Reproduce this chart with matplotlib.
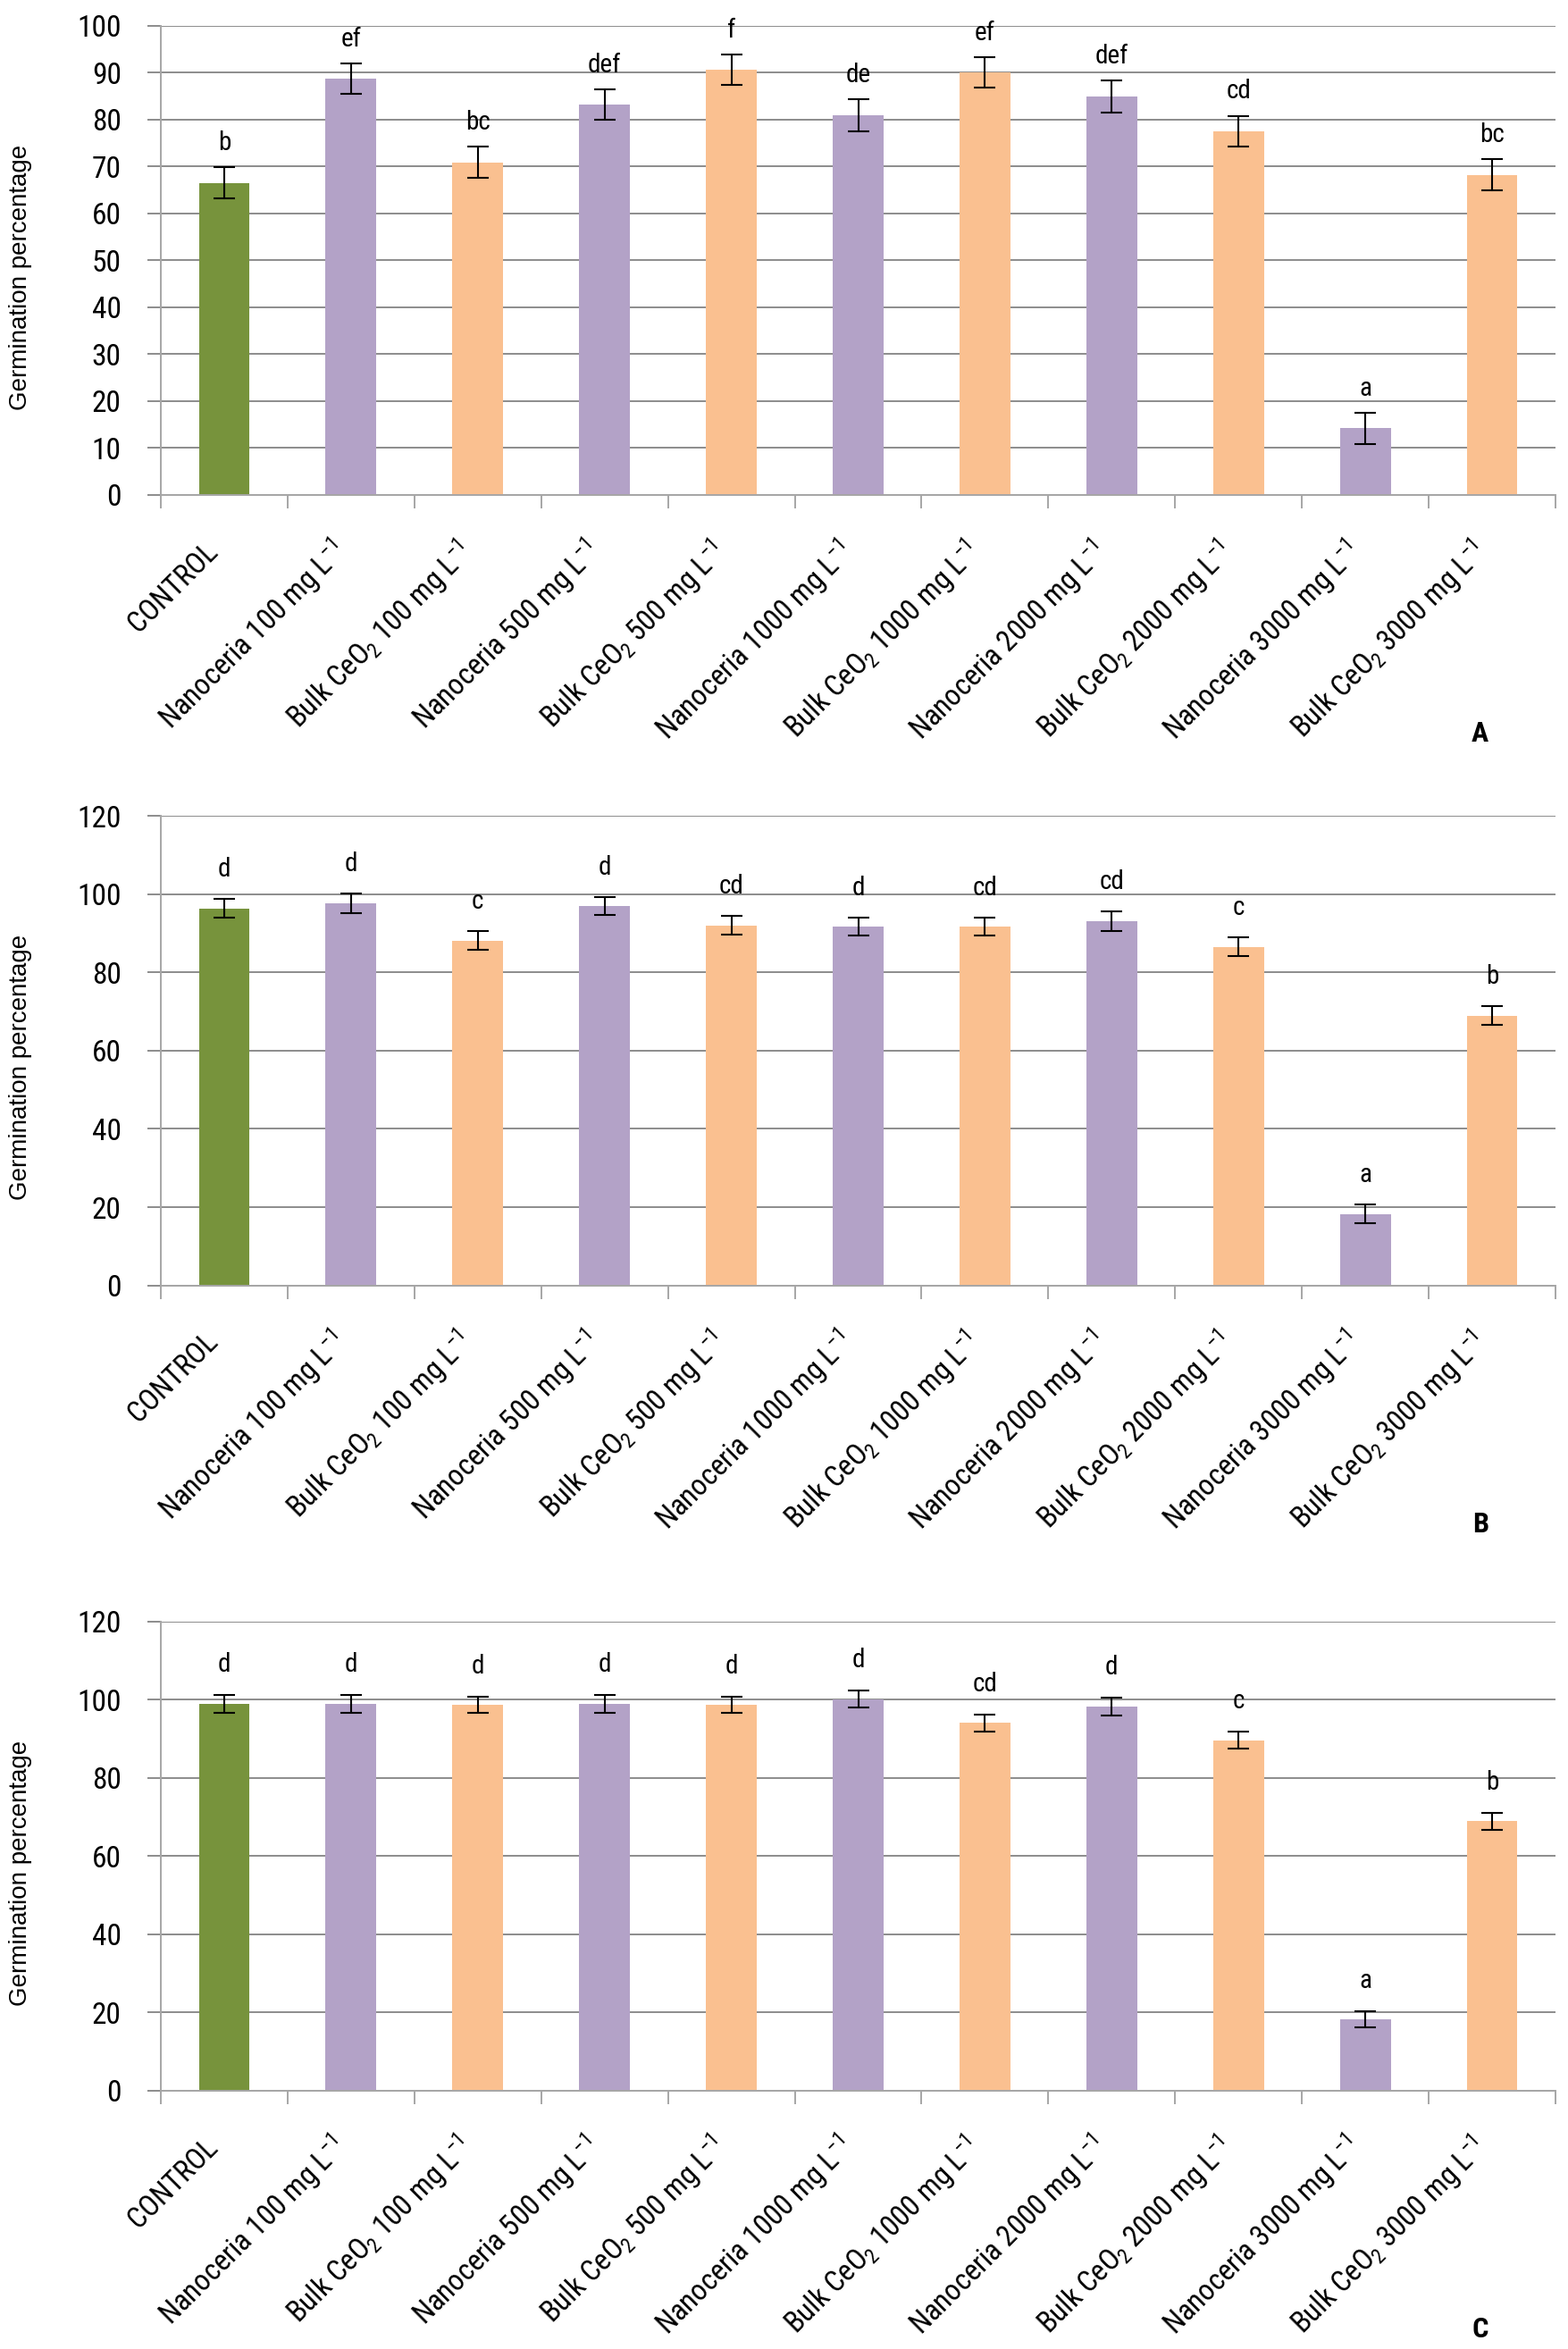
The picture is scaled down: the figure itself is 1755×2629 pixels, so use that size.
import matplotlib
matplotlib.use("Agg")
import matplotlib.pyplot as plt
import matplotlib.transforms as mtransforms
from matplotlib import font_manager
import numpy as np


def pick_family(names):
    """Returns the first installed family of the list"""
    for name in names:
        try:
            font_manager.findfont(name, fallback_to_default=False)
            return name
        except ValueError:
            pass
    return None


# categories and treatment groups
categories = [
    "CONTROL",
    "Nanoceria 100 mg L$^{-1}$",
    "Bulk CeO$_2$ 100 mg L$^{-1}$",
    "Nanoceria 500 mg L$^{-1}$",
    "Bulk CeO$_2$ 500 mg L$^{-1}$",
    "Nanoceria 1000 mg L$^{-1}$",
    "Bulk CeO$_2$ 1000 mg L$^{-1}$",
    "Nanoceria 2000 mg L$^{-1}$",
    "Bulk CeO$_2$ 2000 mg L$^{-1}$",
    "Nanoceria 3000 mg L$^{-1}$",
    "Bulk CeO$_2$ 3000 mg L$^{-1}$",
]
groups = ["control", "nano", "bulk", "nano", "bulk", "nano", "bulk",
          "nano", "bulk", "nano", "bulk"]
group_colors = {"control": "#77933C", "nano": "#B3A2C7", "bulk": "#FAC090"}

# panel A
germ_a = [66.5, 88.7, 70.9, 83.2, 90.6, 80.9, 90.0, 84.9, 77.5, 14.2, 68.2]
err_a = [3.3, 3.2, 3.3, 3.3, 3.3, 3.4, 3.2, 3.4, 3.3, 3.3, 3.3]
letters_a = ["b", "ef", "bc", "def", "f", "de", "ef", "def", "cd", "a", "bc"]

# panel B
germ_b = [96.4, 97.6, 88.1, 97.0, 92.0, 91.7, 91.7, 93.2, 86.6, 18.2, 69.0]
err_b = [2.4, 2.5, 2.4, 2.3, 2.4, 2.3, 2.3, 2.5, 2.4, 2.4, 2.5]
letters_b = ["d", "d", "c", "d", "cd", "d", "cd", "cd", "c", "a", "b"]

# panel C
germ_c = [98.9, 98.9, 98.6, 98.9, 98.6, 100.1, 94.0, 98.2, 89.6, 18.2, 68.9]
err_c = [2.2, 2.2, 2.1, 2.2, 2.1, 2.1, 2.1, 2.2, 2.2, 2.1, 2.2]
letters_c = ["d", "d", "d", "d", "d", "d", "cd", "d", "c", "a", "b"]

panel_names = ["A", "B", "C"]
y_max = [100, 120, 120]
y_step = [10, 20, 20]

# fonts: narrow face if there is one, else Arial-like face a bit smaller
narrow = pick_family(["Liberation Sans Narrow", "Roboto Condensed",
                      "Open Sans Condensed", "Noto Sans Condensed"])
regular = pick_family(["Liberation Sans", "Arial", "DejaVu Sans"])
if narrow is not None:
    main_family, fs_scale = narrow, 1.0
else:
    main_family, fs_scale = regular, 0.84
plt.rcParams["font.family"] = [main_family, "DejaVu Sans"]
plt.rcParams["mathtext.default"] = "regular"

# layout (figure fractions) and style
FIG_W, FIG_H = 1755, 2629
LEFT = 180 / FIG_W
WIDTH = (1741 - 180) / FIG_W
BOTTOMS = [0.7893, 0.4528, 0.1100]
HEIGHT = 0.1998
LETTER_GAP = [13.7, 18.0, 18.7]
GRID_COLOR = "#8C8C8C"
AXIS_COLOR = "#A6A6A6"

fig = plt.figure(figsize=(FIG_W / 100, FIG_H / 100), dpi=100)

panels = [(germ_a, err_a, letters_a), (germ_b, err_b, letters_b),
          (germ_c, err_c, letters_c)]

for k, (vals, errs, lets) in enumerate(panels):
    ax = fig.add_axes([LEFT, BOTTOMS[k], WIDTH, HEIGHT])
    x = np.arange(len(categories))
    colors = [group_colors[g] for g in groups]
    ax.bar(x, vals, width=0.40, color=colors, zorder=3)
    ax.errorbar(x, vals, yerr=errs, fmt="none", ecolor="black",
                elinewidth=1.5, capsize=8.3, capthick=1.5, zorder=4)

    for i, (v, e, t) in enumerate(zip(vals, errs, lets)):
        ax.annotate(t, (x[i], v + e), xytext=(0, LETTER_GAP[k]),
                    textcoords="offset points", ha="center", va="baseline",
                    fontsize=20 * fs_scale * 1.05)

    ax.set_xlim(-0.5, len(categories) - 0.5)
    ax.set_ylim(0, y_max[k])
    ax.set_yticks(np.arange(0, y_max[k] + 1, y_step[k]))
    ax.yaxis.grid(True, color=GRID_COLOR, linewidth=1.4, zorder=0)
    ax.set_axisbelow(True)

    for side in ["top", "right"]:
        ax.spines[side].set_visible(False)
    for side in ["left", "bottom"]:
        ax.spines[side].set_color(AXIS_COLOR)
        ax.spines[side].set_linewidth(1.4)
        ax.spines[side].set_zorder(5)

    ax.tick_params(axis="y", direction="out", length=10.8, width=1.4,
                   color=GRID_COLOR, pad=21, labelsize=24 * fs_scale)

    ax.set_xticks(x)
    ax.set_xticks(np.arange(-0.5, len(categories), 1.0), minor=True)
    ax.set_xticklabels(categories, rotation=45, ha="right", va="center",
                       rotation_mode="anchor", fontsize=23.5 * fs_scale)
    ax.tick_params(axis="x", which="major", length=0, pad=42)
    ax.tick_params(axis="x", which="minor", direction="out", length=10.8,
                   width=1.4, color=AXIS_COLOR)
    shift = mtransforms.ScaledTranslation(-12 / 100, 0, fig.dpi_scale_trans)
    for lab in ax.get_xticklabels():
        lab.set_transform(lab.get_transform() + shift)

    ax.set_ylabel("Germination percentage", fontfamily=regular,
                  fontsize=20)
    ax.yaxis.set_label_coords(-0.0925, 0.464)

    ax.text(0.946, -0.509, panel_names[k], transform=ax.transAxes,
            ha="center", va="center", fontsize=22 * fs_scale * 1.05,
            fontweight="bold")

fig.savefig("out.png", dpi=100)
